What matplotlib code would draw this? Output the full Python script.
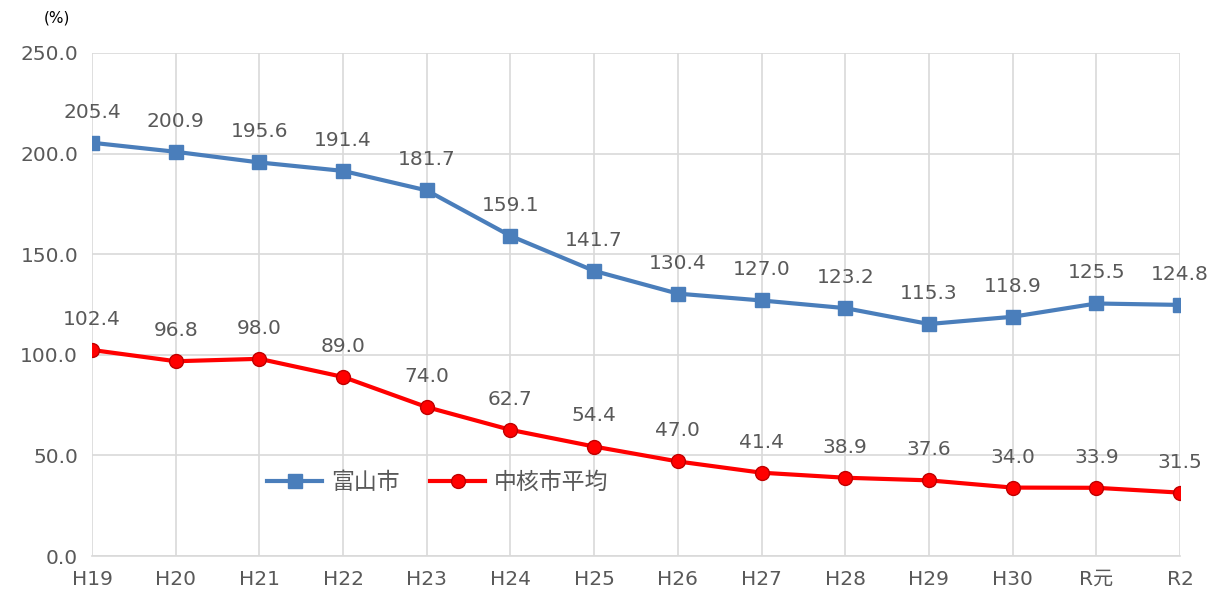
import matplotlib
matplotlib.use("Agg")
import matplotlib.pyplot as plt

plt.rcParams['font.family'] = ['DejaVu Sans', 'Noto Sans CJK JP']

categories = ["H19", "H20", "H21", "H22", "H23", "H24", "H25", "H26", "H27", "H28", "H29", "H30", "R元", "R2"]
toyama = [205.4, 200.9, 195.6, 191.4, 181.7, 159.1, 141.7, 130.4, 127.0, 123.2, 115.3, 118.9, 125.5, 124.8]
chukaku = [102.4, 96.8, 98.0, 89.0, 74.0, 62.7, 54.4, 47.0, 41.4, 38.9, 37.6, 34.0, 33.9, 31.5]
series_names = ["富山市", "中核市平均"]
yticks = [0, 50, 100, 150, 200, 250]

fig = plt.figure(figsize=(12.18, 6.02), dpi=100)
ax = fig.add_axes([92/1218, 46/602, (1180-92)/1218, (556-53)/602])

x = list(range(len(categories)))
text_color = "#595959"
blue = "#4A7EBB"
red = "#FF0000"

ax.plot(x, toyama, color=blue, lw=3, marker="s", markersize=10.5, label=series_names[0], zorder=3)
ax.plot(x, chukaku, color=red, lw=3, marker="o", markersize=10, markeredgecolor="#C00000",
        markeredgewidth=1, label=series_names[1], zorder=3)

for xi, v in zip(x, toyama):
    ax.annotate(f"{v:.1f}", (xi, v), xytext=(0, 22), textcoords="offset points",
                ha="center", va="center", fontsize=14.5, color=text_color)
for xi, v in zip(x, chukaku):
    ax.annotate(f"{v:.1f}", (xi, v), xytext=(0, 22), textcoords="offset points",
                ha="center", va="center", fontsize=14.5, color=text_color)

ax.set_xlim(0, len(categories) - 1)
ax.set_ylim(0, 250)
ax.set_yticks(yticks)
ax.set_yticklabels([f"{t:.1f}" for t in yticks])
ax.set_xticks(x)
ax.set_xticklabels(categories)
ax.tick_params(axis="both", length=0, labelsize=14.5, colors=text_color)
ax.tick_params(axis="x", pad=10)
ax.tick_params(axis="y", pad=10)

ax.grid(True, color="#D9D9D9", lw=1.2, zorder=0)
ax.set_axisbelow(True)
for side in ["top", "right", "left"]:
    ax.spines[side].set_visible(False)
ax.spines["bottom"].set_color("#D9D9D9")
ax.spines["bottom"].set_linewidth(1.2)

leg = ax.legend(loc="center", bbox_to_anchor=(0.318, 0.147), ncol=2, frameon=False,
                fontsize=16.5, handlelength=2.4, handletextpad=0.4, columnspacing=1.3)
for t in leg.get_texts():
    t.set_color(text_color)

fig.text(57/1218, 1 - 18/602, "(%)", fontsize=11, ha="center", va="center", color="#000000")

fig.savefig("out.png", dpi=100)
